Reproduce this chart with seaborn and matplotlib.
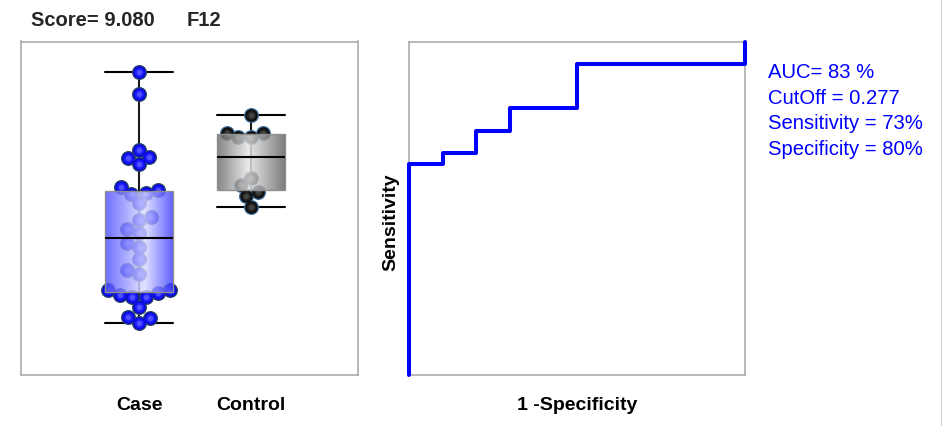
import numpy as np
import pandas as pd
import matplotlib
matplotlib.use("Agg")
import matplotlib.pyplot as plt
import seaborn as sns
from matplotlib.lines import Line2D
from matplotlib.colors import LinearSegmentedColormap

# ---- data -------------------------------------------------------------
groups = ["Case", "Control"]
case_scores = [3.04, 2.82, 2.26, 2.19, 2.18, 2.12, 1.89, 1.86, 1.83, 1.82, 1.73,
               1.59, 1.56, 1.47, 1.43, 1.33, 1.29, 1.17, 1.06, 1.02,
               0.86, 0.86, 0.83, 0.81, 0.79, 0.79, 0.69, 0.59, 0.58, 0.53]
control_scores = [2.61, 2.43, 2.43, 2.39, 2.39, 1.98, 1.91, 1.84, 1.80, 1.69]

score_title = "Score= 9.080"
marker_name = "F12"
cutoff_text = "CutOff = 0.277"
sensitivity_text = "Sensitivity = 73%"
specificity_text = "Specificity = 80%"

# ---- style ------------------------------------------------------------
sns.set_theme(style="white")
plt.rcParams["font.family"] = ["Liberation Sans", "DejaVu Sans"]

W, H = 948, 426
fig = plt.figure(figsize=(W / 100, H / 100), dpi=100)


def px_axes(x0, y0, x1, y1):
    return fig.add_axes([x0 / W, 1 - y1 / H, (x1 - x0) / W, (y1 - y0) / H])


ax_box = px_axes(21, 41.5, 357.5, 375.3)
ax_roc = px_axes(409, 41.5, 745, 375.3)
AX_H = 375.3 - 41.5

frame_color = "#a6a6a6"
for ax in (ax_box, ax_roc):
    for sp in ax.spines.values():
        sp.set_color(frame_color)
        sp.set_linewidth(1.1)
    ax.set_xticks([])
    ax.set_yticks([])

df = pd.DataFrame({
    "group": ["Case"] * len(case_scores) + ["Control"] * len(control_scores),
    "score": case_scores + control_scores,
})

# ---- box plot ---------------------------------------------------------
sns.boxplot(
    data=df, x="group", y="score", order=groups, ax=ax_box,
    width=0.6, color="white", showfliers=False, linecolor="black",
    capwidths=0.6,
    boxprops=dict(edgecolor="#8f8f8f", linewidth=1.0, zorder=4),
    medianprops=dict(color="black", linewidth=1.5, zorder=5),
    whiskerprops=dict(color="black", linewidth=1.5, zorder=1),
    capprops=dict(color="black", linewidth=1.5, zorder=1),
)
# continuous whisker line through the box
vals = [np.array(case_scores), np.array(control_scores)]
ax_box.vlines([0, 1], [v.min() for v in vals], [v.max() for v in vals],
              color="#222222", linewidth=1.1, zorder=1)

sns.swarmplot(data=df, x="group", y="score", order=groups, ax=ax_box,
              size=8.6, color="blue", zorder=2)

ax_box.set_xlim(-1.054, 1.951)
ax_box.set_ylim(0.007, 3.345)
ax_box.set_xlabel("")
ax_box.set_ylabel("")
ax_box.set_xticks([])
ax_box.set_yticks([])

# gradient fill of boxes
box_patches = [p for p in ax_box.patches]
stops = [
    [(0.0, "#4a4aff"), (0.58, "#dcdcff"), (1.0, "#3a3aff")],
    [(0.0, "#666666"), (0.46, "#e4e4e4"), (1.0, "#5c5c5c")],
]
for patch, st in zip(box_patches, stops):
    patch.set_facecolor("none")
    bb = patch.get_path().get_extents()
    cmap = LinearSegmentedColormap.from_list("shade", st)
    grad = np.linspace(0, 1, 256)[None, :]
    im = ax_box.imshow(grad, cmap=cmap, extent=(bb.x0, bb.x1, bb.y0, bb.y1),
                       aspect="auto", alpha=0.8, zorder=3,
                       interpolation="bicubic")
    im.set_clip_path(patch)

ax_box.set_xlim(-1.054, 1.951)
ax_box.set_ylim(0.007, 3.345)
ax_box.set_aspect("auto")

# resolve swarm positions, then draw the points as shaded spheres
fig.canvas.draw()
swarm_colls = [c for c in ax_box.collections
               if len(c.get_offsets()) in (len(case_scores), len(control_scores))
               and c.get_zorder() == 2]
sphere_styles = [
    ("#2a4665", "#0808e0", "#1e1eff", "#5050ff"),
    ("#41719e", "#0c0c0c", "#222222", "#444444"),
]
for coll, (ring, body, mid, hi) in zip(swarm_colls, sphere_styles):
    xy = np.asarray(coll.get_offsets())
    coll.set_visible(False)
    for size, col in ((10.8, ring), (9.0, body), (6.6, mid), (3.8, hi)):
        ax_box.scatter(xy[:, 0], xy[:, 1], s=size ** 2, color=col,
                       linewidths=0, zorder=2)

bold = dict(fontsize=14, fontweight="bold", color="black")
for i, g in enumerate(groups):
    ax_box.text(i, -30.5 / AX_H, g, transform=ax_box.get_xaxis_transform(),
                ha="center", va="center", **bold)

# ---- ROC curve --------------------------------------------------------
case_arr = np.array(case_scores)
ctrl_arr = np.array(control_scores)
thresholds = np.unique(np.r_[case_arr, ctrl_arr])
tpr = np.r_[0.0, [np.mean(case_arr <= t) for t in thresholds]]
fpr = np.r_[0.0, [np.mean(ctrl_arr <= t) for t in thresholds]]
auc = np.trapezoid(tpr, fpr)

sns.lineplot(x=fpr, y=tpr, sort=False, estimator=None, ax=ax_roc,
             color="#0000ff", linewidth=2.9, zorder=5, clip_on=False)
ax_roc.set_xlim(0, 1)
ax_roc.set_ylim(0, 1)
ax_roc.set_xticks([])
ax_roc.set_yticks([])
ax_roc.set_xlabel("")
ax_roc.set_ylabel("")
ax_roc.text(0.5, -30.5 / AX_H, "1 -Specificity", transform=ax_roc.transAxes,
            ha="center", va="center", **bold)
ax_roc.text(-(409 - 391) / 336, (375.3 - 222.5) / AX_H, "Sensitivity",
            transform=ax_roc.transAxes, rotation=90,
            ha="center", va="center", **bold)

# ---- annotations ------------------------------------------------------
fig.text(31 / W, 1 - 26 / H, score_title, fontsize=14.5, fontweight="bold",
         ha="left", va="baseline")
fig.text(187 / W, 1 - 26 / H, marker_name, fontsize=14.5, fontweight="bold",
         ha="left", va="baseline")

stats_lines = [f"AUC= {round(auc * 100):d} %", cutoff_text,
               sensitivity_text, specificity_text]
for k, line in enumerate(stats_lines):
    fig.text(768 / W, 1 - (78.3 + 25.5 * k) / H, line, fontsize=14.6,
             color="#0000ff", ha="left", va="baseline")

fig.add_artist(Line2D([940.5 / W, 940.5 / W], [0, 1], color="#d4d4d4",
                      linewidth=0.8, transform=fig.transFigure))

fig.savefig("out.png", dpi=100)
